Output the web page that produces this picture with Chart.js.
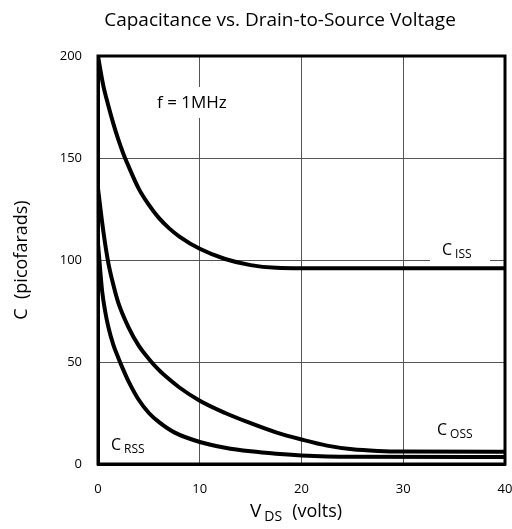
<!DOCTYPE html>
<html>
<head>
<meta charset="utf-8">
<script src="https://cdn.jsdelivr.net/npm/chart.js@4.4.1/dist/chart.umd.min.js"></script>
<style>
	html, body { margin: 0; padding: 0; background: #fff; }
</style>
</head>
<body>
<canvas id="chart" width="512" height="529"></canvas>
<script>
const FONT = `"Open Sans", "DejaVu Sans", sans-serif`

//  Readings taken off the datasheet curves (V in volts, C in pF)
const cissVolts = [0, 0.5, 1, 1.5, 2, 2.5, 3, 4, 5, 6, 7, 8, 10, 12.5, 15, 17.5, 20, 40]
const cissPf = [200, 186, 176, 167, 159, 152, 146, 135, 127, 120.5, 115.5, 111.5, 105.5, 100.5, 97.5, 96.2, 96, 96]
const cossVolts = [0, 0.5, 1, 1.5, 2, 3, 4, 5, 6, 7, 8, 10, 12.5, 15, 17.5, 20, 22.5, 25, 27.5, 30, 40]
const cossPf = [135, 115, 99, 88, 79, 67, 58, 51.5, 46, 41.5, 37.5, 31, 25, 20, 15.5, 12, 9, 7.2, 6.4, 6.1, 6]
const crssVolts = [0, 0.2, 0.4, 0.7, 1, 1.5, 2, 2.5, 3, 4, 5, 6, 7.5, 10, 12.5, 15, 17.5, 20, 22.5, 25, 40]
const crssPf = [108, 96, 85, 75, 67.5, 58.5, 52, 46, 40.5, 31.5, 25, 20.5, 15.5, 10.8, 8, 6.2, 5, 4.2, 3.7, 3.5, 3.4]

const xTicks = [0, 10, 20, 30, 40]
const yTicks = [0, 50, 100, 150, 200]

const toPoints = (xs, ys) => xs.map((x, i) => ({ x, y: ys[i] }))
const curve = (xs, ys) => ({
	data: toPoints(xs, ys),
	borderColor: `#000`,
	borderWidth: 4,
	pointRadius: 0,
	fill: false,
	cubicInterpolationMode: `monotone`
})

//  Draws "C" with a smaller subscript after it
function subLabel(ctx, x, y, main, sub, size = 16) {
	ctx.font = `${size}px ${FONT}`
	ctx.textAlign = `left`
	ctx.textBaseline = `middle`
	ctx.fillText(main, x, y)
	const w = ctx.measureText(main).width
	ctx.font = `${Math.round(size * 0.75)}px ${FONT}`
	ctx.fillText(sub, x + w + 3, y + 5)
	return x + w + 3 + ctx.measureText(sub).width
}

const annotations = {
	id: `annotations`,
	afterDatasetsDraw(chart) {
		const { ctx } = chart
		ctx.save()
		ctx.fillStyle = `#fff`
		//  white boxes behind labels that sit on grid lines
		ctx.fillRect(150, 87, 86, 31)
		ctx.fillRect(430, 238, 60, 24)
		ctx.fillStyle = `#000`
		ctx.font = `17px ${FONT}`
		ctx.textAlign = `left`
		ctx.textBaseline = `middle`
		ctx.fillText(`f = 1MHz`, 157, 103)
		subLabel(ctx, 442, 250, `C`, `ISS`)
		subLabel(ctx, 437, 430, `C`, `OSS`)
		subLabel(ctx, 111, 445, `C`, `RSS`)
		ctx.restore()
	},
	afterDraw(chart) {
		const { ctx, chartArea } = chart
		ctx.save()
		ctx.fillStyle = `#000`
		//  Title
		ctx.font = `19px ${FONT}`
		ctx.textAlign = `center`
		ctx.textBaseline = `middle`
		ctx.fillText(`Capacitance vs. Drain-to-Source Voltage`, 280, 21)
		//  Y axis title
		ctx.save()
		ctx.translate(22, (chartArea.top + chartArea.bottom) / 2)
		ctx.rotate(-Math.PI / 2)
		ctx.font = `18px ${FONT}`
		ctx.fillText(`C  (picofarads)`, 0, 0)
		ctx.restore()
		//  X axis title with subscript
		const end = subLabel(ctx, 250, 512, `V`, `DS`, 19)
		ctx.font = `18px ${FONT}`
		ctx.textAlign = `left`
		ctx.fillText(`(volts)`, end + 10, 512)
		ctx.restore()
	}
}

new Chart(document.getElementById(`chart`), {
	type: `line`,
	data: {
		datasets: [curve(cissVolts, cissPf), curve(cossVolts, cossPf), curve(crssVolts, crssPf)]
	},
	options: {
		responsive: false,
		animation: false,
		devicePixelRatio: 1,
		layout: { padding: { top: 56, right: 7, left: 0, bottom: 0 } },
		plugins: { legend: { display: false }, tooltip: { enabled: false } },
		scales: {
			x: {
				type: `linear`,
				min: 0,
				max: 40,
				afterBuildTicks: axis => { axis.ticks = xTicks.map(value => ({ value })) },
				afterFit: axis => {
					axis.height = 65
					axis.paddingLeft = 0
					axis.paddingRight = 0
				},
				grid: { color: `#555`, lineWidth: 1, drawTicks: false },
				border: { color: `#000`, width: 3 },
				ticks: { color: `#000`, padding: 17, font: { family: FONT, size: 13 } }
			},
			y: {
				type: `linear`,
				min: 0,
				max: 200,
				afterBuildTicks: axis => { axis.ticks = yTicks.map(value => ({ value })) },
				afterFit: axis => {
					axis.width = 98
					axis.paddingTop = 0
					axis.paddingBottom = 0
				},
				grid: { color: `#555`, lineWidth: 1, drawTicks: false },
				border: { color: `#000`, width: 3 },
				ticks: { color: `#000`, padding: 16, font: { family: FONT, size: 13 } }
			}
		}
	},
	plugins: [annotations, {
		//  box border on top and right like the datasheet frame
		id: `frame`,
		beforeDatasetsDraw(chart) {
			const { ctx, chartArea: a } = chart
			ctx.save()
			ctx.strokeStyle = `#000`
			ctx.lineWidth = 3
			ctx.strokeRect(a.left, a.top, a.right - a.left, a.bottom - a.top)
			ctx.restore()
		}
	}]
})
</script>
</body>
</html>
